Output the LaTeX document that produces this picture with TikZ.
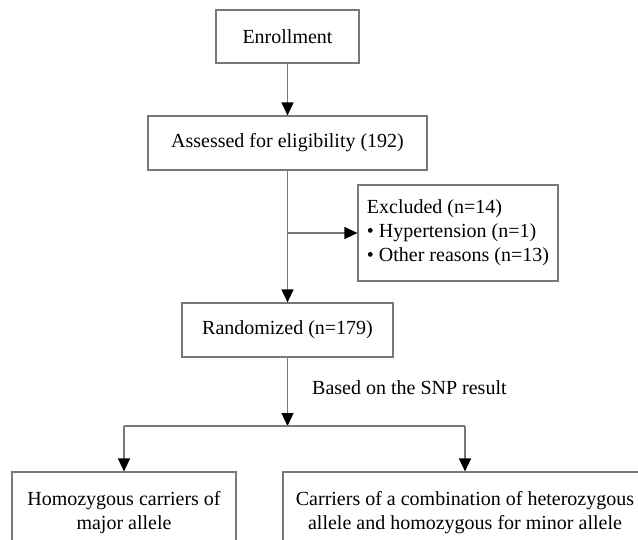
\documentclass[tikz,border=0pt]{standalone}
\usepackage{fontspec}
\setmainfont{Liberation Serif}
\usetikzlibrary{arrows.meta}
\definecolor{linegray}{RGB}{120,120,120}
\begin{document}
\begin{tikzpicture}[x=1pt,y=-1pt,
  box/.style={draw=linegray, line width=1.2pt, inner sep=0pt, align=center,
    font=\fontsize{20}{24}\selectfont},
  conn/.style={draw=linegray, line width=1.2pt},
  arr/.style={conn, -{Triangle[length=13pt,width=12pt,black]}},
  lbl/.style={font=\fontsize{20}{24}\selectfont, inner sep=0pt}]
\useasboundingbox (0,0) rectangle (638,539);
\node[box, minimum width=143pt, minimum height=53pt] (enr) at (287.5,36.5) {Enrollment};
\node[box, minimum width=279pt, minimum height=54pt] (ass) at (287.5,143) {Assessed for eligibility (192)};
\node[box, minimum width=200pt, minimum height=96pt, align=left] (exc) at (458,233)
  {Excluded (n=14)\\\textbullet\ Hypertension (n=1)\\\textbullet\ Other reasons (n=13)};
\node[box, minimum width=211pt, minimum height=54pt] (ran) at (287.5,330) {Randomized (n=179)};
\node[lbl, anchor=west] (snp) at (312,388) {Based on the SNP result};
\node[box, minimum width=224pt, minimum height=82pt] (hom) at (124,513)
  {Homozygous carriers of\\major allele};
\node[box, minimum width=364pt, minimum height=82pt] (het) at (465,513)
  {Carriers of a combination of heterozygous\\allele and homozygous for minor allele};
\coordinate (split) at (287.5,426);
\coordinate (bx) at (287.5,233);
\coordinate (sl) at (124,426);
\coordinate (sr) at (465,426);
\draw[arr] (enr.south) -- (ass.north);
\draw[arr] (ass.south) -- (ran.north);
\draw[arr] (bx) -- (exc.west);
\draw[arr] (ran.south) -- (split);
\draw[conn] (sl) -- (sr);
\draw[arr] (sl) -- (hom.north);
\draw[arr] (sr) -- (het.north);
\end{tikzpicture}
\end{document}
